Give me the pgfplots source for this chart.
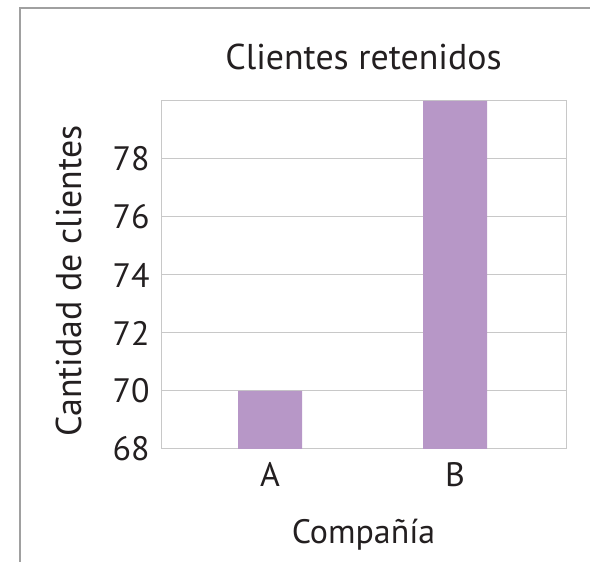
\documentclass[border=0pt]{standalone}
\usepackage{fontspec}
\setmainfont{PT Sans}
\usepackage{pgfplots}
\pgfplotsset{compat=1.18}
\definecolor{barc}{RGB}{183,151,199}
\definecolor{gridc}{RGB}{200,200,200}
\definecolor{framec}{RGB}{160,160,160}
\definecolor{txt}{RGB}{35,31,32}
\begin{document}
\begin{tikzpicture}
\useasboundingbox (0,0) rectangle (590bp,562bp);
\draw[framec, line width=1.2bp] (20bp,-20bp) -- (20bp,554bp) -- (620bp,554bp);
\begin{axis}[
  at={(161bp,113bp)}, anchor=south west,
  scale only axis, width=405bp, height=348bp,
  xmin=-0.59, xmax=1.6, ymin=68, ymax=80,
  ytick={68,70,...,78},
  xtick={0,1}, xticklabels={A,B},
  major tick length=0pt,
  axis line style={gridc, line width=1bp},
  ymajorgrids, grid style={gridc, line width=1bp},
  ybar, bar width=0.346, bar shift=0pt,
  /pgf/number format/assume math mode=true,
  ticklabel style={font=\fontsize{34}{38}\selectfont, text=txt},
  yticklabel style={xshift=-8bp},
  xticklabel style={yshift=-10bp},
  clip=false,
]
\addplot[fill=barc, draw=none] coordinates {(0,70) (1,80)};
\node[font=\fontsize{36}{40}\selectfont, text=txt] at (rel axis cs:0.5,1) [yshift=44bp] {Clientes retenidos};
\node[font=\fontsize{34}{38}\selectfont, text=txt] at (rel axis cs:0.5,0) [yshift=-86bp] {Compañía};
\node[font=\fontsize{36}{40}\selectfont, text=txt, xshift=-92bp, yshift=-6bp, rotate=90] at (rel axis cs:0,0.5) {Cantidad de clientes};
\end{axis}
\end{tikzpicture}
\end{document}
